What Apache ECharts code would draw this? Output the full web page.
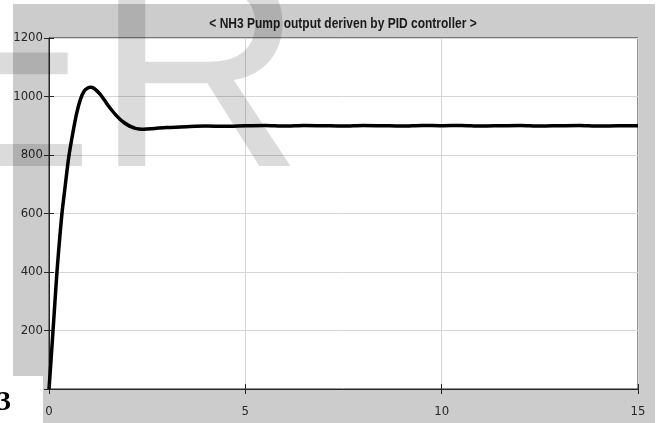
<!DOCTYPE html>
<html>
<head>
<meta charset="utf-8">
<script src="https://cdn.jsdelivr.net/npm/echarts@6/dist/echarts.min.js"></script>
<style>
  html, body { margin: 0; padding: 0; background: #ffffff; }
  #wrap { position: relative; width: 660px; height: 423px; overflow: hidden; }
  #figbg { position: absolute; left: 13px; top: 4px; width: 642px; height: 419px; background: #cccccc; }
  #notch { position: absolute; left: 0; top: 376px; width: 43px; height: 47px; background: #ffffff; }
  #chart { position: absolute; left: 0; top: 0; width: 660px; height: 423px; }
</style>
</head>
<body>
<div id="wrap">
  <div id="figbg"></div>
  <div id="notch"></div>
  <div id="chart"></div>
</div>
<script>
// Simulated pump output (time in s, output value)
const timeValues = [
  0, 0.05, 0.1, 0.15, 0.2, 0.25, 0.33, 0.4, 0.5, 0.6, 0.7, 0.8, 0.9, 1.0, 1.05, 1.1,
  1.2, 1.3, 1.4, 1.5, 1.6, 1.7, 1.8, 1.9, 2.0, 2.1, 2.2, 2.3, 2.4, 2.5, 2.7, 3.0,
  3.5, 4.0, 4.5, 5.0, 5.5, 6.0, 6.5, 7.0, 7.5, 8.0, 8.5, 9.0, 9.5, 10.0, 10.5, 11.0,
  11.5, 12.0, 12.5, 13.0, 13.5, 14.0, 14.5, 15.0
];
const outputValues = [
  0, 95, 195, 295, 395, 480, 600, 680, 790, 870, 940, 990, 1020, 1030, 1032, 1031,
  1022, 1008, 990, 970, 953, 937, 923, 912, 903, 896, 891, 889, 888, 889, 891, 894,
  897, 899, 898, 900, 901, 899, 901, 900, 899, 901, 900, 899, 901, 900, 901, 899,
  900, 901, 899, 900, 901, 899, 900, 900
];
const titleText = '< NH3 Pump output deriven by PID controller >';
const xTicks = { min: 0, max: 15, step: 5 };
const yTicks = { min: 0, max: 1200, step: 200 };

const seriesData = timeValues.map((t, i) => [t, outputValues[i]]);

const labelFont = '"Liberation Sans Narrow", "DejaVu Sans Condensed", "Liberation Sans", sans-serif';
const chart = echarts.init(document.getElementById('chart'), null, { renderer: 'canvas' });

const baseX = {
  type: 'value', min: xTicks.min, max: xTicks.max, interval: xTicks.step
};
const baseY = {
  type: 'value', min: yTicks.min, max: yTicks.max, interval: yTicks.step
};

chart.setOption({
  backgroundColor: 'transparent',
  animation: false,
  grid: {
    left: 49, right: 22, top: 38, bottom: 34,
    show: true, backgroundColor: '#ffffff', borderColor: '#262626', borderWidth: 1
  },
  xAxis: [
    Object.assign({}, baseX, {
      position: 'bottom',
      axisLine: { show: true, lineStyle: { color: '#262626', width: 1 } },
      axisTick: { show: true, inside: true, length: 5, lineStyle: { color: '#262626' } },
      axisLabel: { fontFamily: labelFont, fontSize: 13, color: '#262626', margin: 16 },
      splitLine: { show: true, lineStyle: { color: '#d6d6d6', width: 1 } }
    }),
    Object.assign({}, baseX, {
      position: 'top',
      axisLine: { show: true, lineStyle: { color: '#262626', width: 1 } },
      axisTick: { show: true, inside: true, length: 5, lineStyle: { color: '#262626' } },
      axisLabel: { show: false },
      splitLine: { show: false }
    })
  ],
  yAxis: [
    Object.assign({}, baseY, {
      position: 'left',
      axisLine: { show: true, lineStyle: { color: '#262626', width: 1 } },
      axisTick: { show: true, inside: true, length: 5, lineStyle: { color: '#262626' } },
      axisLabel: {
        fontFamily: labelFont, fontSize: 13, color: '#262626', margin: 6,
        padding: [5, 0, 0, 0],
        formatter: v => (v === 0 ? '' : String(v))
      },
      splitLine: { show: true, lineStyle: { color: '#d6d6d6', width: 1 } }
    }),
    Object.assign({}, baseY, {
      position: 'right',
      axisLine: { show: true, lineStyle: { color: '#262626', width: 1 } },
      axisTick: { show: true, inside: true, length: 5, lineStyle: { color: '#262626' } },
      axisLabel: { show: false },
      splitLine: { show: false }
    })
  ],
  series: [{
    type: 'line',
    xAxisIndex: 0,
    yAxisIndex: 0,
    data: seriesData,
    showSymbol: false,
    smooth: 0.3,
    lineStyle: { color: '#000000', width: 3.5 },
    z: 5
  }],
  graphic: [
    {
      // condensed bold title, centred over the plot area
      type: 'text',
      z: 90,
      silent: true,
      x: 343,
      y: 24,
      scaleX: 0.8,
      style: {
        text: titleText,
        font: 'bold 15px "Liberation Sans"',
        fill: '#1a1a1a',
        textAlign: 'center',
        textVerticalAlign: 'middle'
      }
    },
    {
      type: 'text',
      z: 100,
      silent: true,
      left: -99,
      top: -59,
      style: {
        text: 'ER',
        font: '290px "Liberation Sans"',
        fill: 'rgba(0,0,0,0.14)'
      }
    },
    {
      type: 'text',
      z: 100,
      silent: true,
      left: -3,
      top: 389,
      style: {
        text: '3',
        font: 'bold 28px "Liberation Serif"',
        fill: '#000000'
      }
    }
  ]
});
</script>
</body>
</html>
